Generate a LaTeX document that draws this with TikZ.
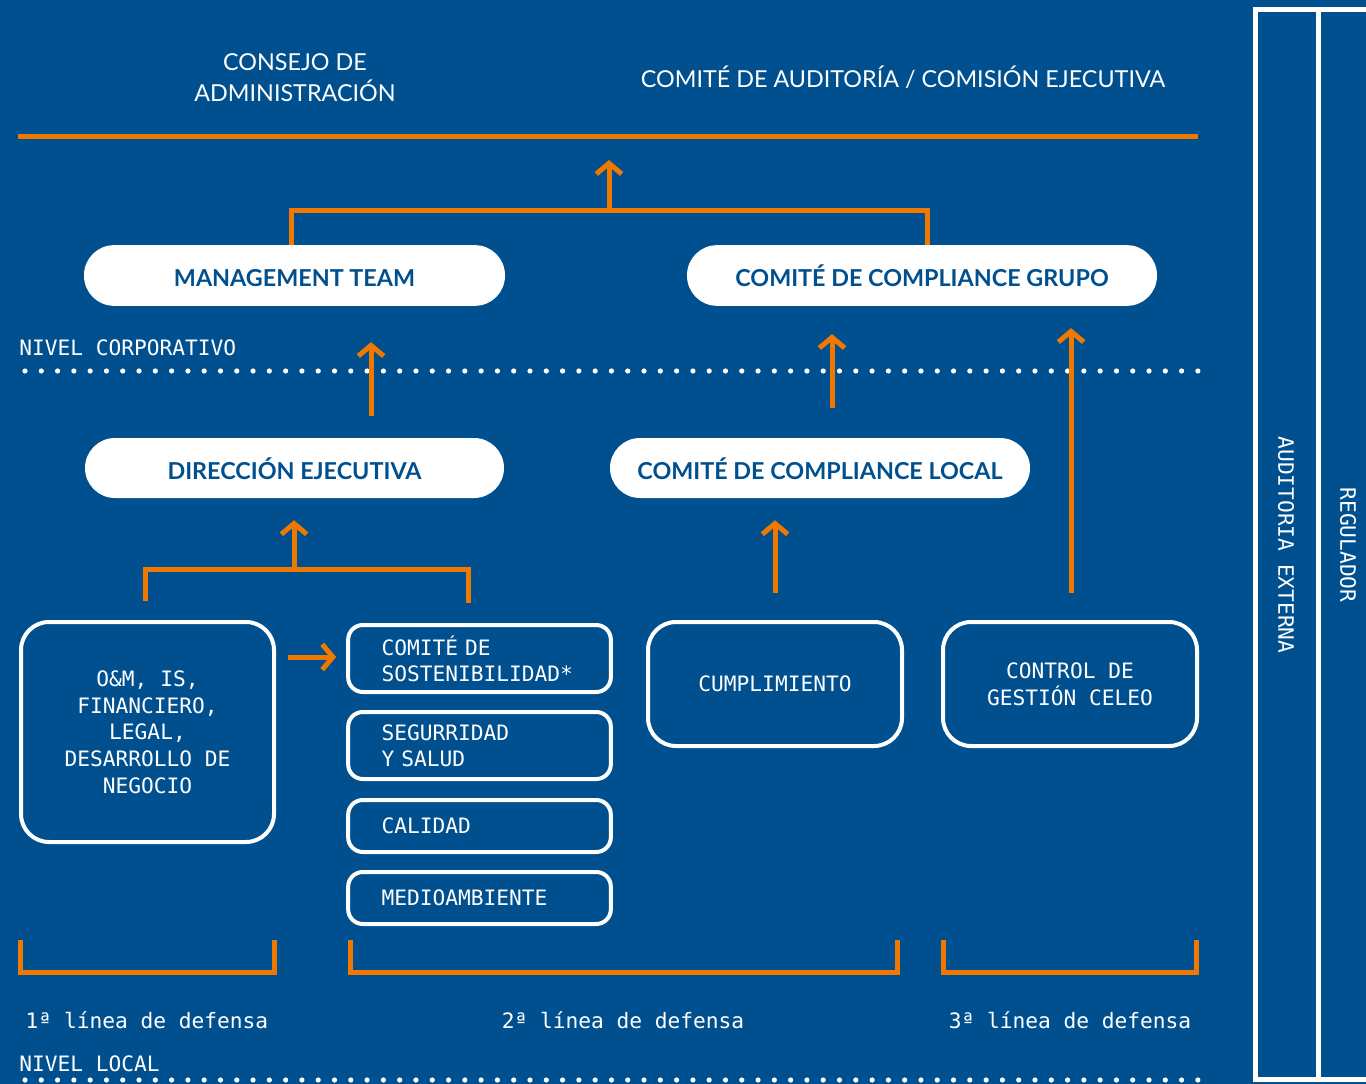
\documentclass[tikz,border=0pt]{standalone}
\usepackage{fontspec}
\setmainfont{Lato}
\newfontfamily\mono{DejaVu Sans Mono}
\usetikzlibrary{arrows.meta,calc}
\definecolor{bg}{HTML}{00508F}
\definecolor{org}{HTML}{F07800}
\begin{document}
\begin{tikzpicture}[x=0.75pt,y=-0.75pt,
  oline/.style={draw=org,line width=3.75pt,line join=miter},
  oarrow/.style={draw=org,line width=3.75pt,-{Straight Barb[length=8pt,width=19pt]}},
  pill/.style={fill=white,rounded corners=22.5pt,minimum height=45.5pt,inner sep=0pt,
    font=\fontsize{17.5}{20}\selectfont\bfseries,text=bg,text height=16.8pt,text depth=0pt},
  title/.style={text=white,font=\fontsize{17.5}{23.5}\selectfont,align=center,inner sep=0pt},
  mtext/.style={text=white,font=\mono\fontsize{15.9}{20}\selectfont,inner sep=0pt},
  bigbox/.style={draw=white,line width=3pt,rounded corners=21pt,text=white,
    font=\mono\fontsize{15.9}{20}\selectfont,align=center,inner sep=0pt},
  smallbox/.style={draw=white,line width=3pt,rounded corners=11pt,text=white,
    font=\mono\fontsize{15.9}{19.5}\selectfont,align=left,inner xsep=23pt,inner ysep=0pt,
    text width=147pt,minimum width=197pt},
  dot/.style={fill=white,draw=none},
  frame/.style={draw=white,line width=3.75pt}
]
\useasboundingbox (0,0) rectangle (1366,1084);
\fill[bg] (0,0) rectangle (1366,1084);

% right frame
\draw[frame] (1380,9.5) -- (1255.5,9.5) -- (1255.5,1079.5) -- (1380,1079.5);
\draw[frame] (1318,9.5) -- (1318,1079.5);
\node[mtext,rotate=-90] (audit) at (1286,545) {AUDITORIA EXTERNA};
\node[mtext,rotate=-90] (regul) at (1348,545) {REGULADOR};

% titles
\node[title] (consejo) at (295,77.5) {CONSEJO DE\\ADMINISTRACIÓN};
\node[title] (comite) at (903,77.5) {COMITÉ DE AUDITORÍA / COMISIÓN EJECUTIVA};
\coordinate (tl1) at (18,137);
\coordinate (tl2) at (1198,137);
\draw[oline] (tl1) -- (tl2);

% corporate pills
\node[pill,minimum width=315.75pt] (mt) at (294.5,275.5) {MANAGEMENT TEAM};
\node[pill,minimum width=352.5pt] (ccg) at (922,275.5) {COMITÉ DE COMPLIANCE GRUPO};

\draw[oline] ($(mt.north)+(-3.5,0)$) -- ++(0,-34) -| ($(ccg.north)+(5,0)$);
\draw[oarrow] ($(mt.north)+(314.5,-34)$) -- ($(tl1)+(591,23)$);

\node[mtext,anchor=west] (nc) at (19,348) {NIVEL CORPORATIVO};
\foreach \i in {0,...,72} \fill[dot] (25+\i*16.29,371) circle (2.6);

% local pills
\node[pill,minimum width=314.25pt,minimum height=45pt] (de) at (294.5,468) {DIRECCIÓN EJECUTIVA};
\node[pill,minimum width=315pt,minimum height=45pt] (ccl) at (820,468) {COMITÉ DE COMPLIANCE LOCAL};

\draw[oarrow] ($(de.north)+(76.5,-22)$) -- ($(mt.south)+(76.5,36)$);
\draw[oarrow] ($(ccl.north)+(12,-30)$) -- ($(ccg.south)+(-90,28)$);

% boxes
\node[bigbox,minimum width=189.75pt,minimum height=165pt] (om) at (147.5,732)
  {O\&M, IS,\\FINANCIERO,\\LEGAL,\\DESARROLLO DE\\NEGOCIO};
\node[smallbox,minimum height=50.25pt] (s1) at (479.5,658.5) {COMITÉ DE\\SOSTENIBILIDAD*};
\node[smallbox,minimum height=50.25pt] (s2) at (479.5,745.5) {SEGURRIDAD\\Y SALUD};
\node[smallbox,minimum height=39pt] (s3) at (479.5,826) {CALIDAD};
\node[smallbox,minimum height=39pt] (s4) at (479.5,898) {MEDIOAMBIENTE};
\node[bigbox,minimum width=190.5pt,minimum height=93pt] (cump) at (775,684) {CUMPLIMIENTO};
\node[bigbox,minimum width=190.5pt,minimum height=93pt] (ctrl) at (1070,684) {CONTROL DE\\GESTIÓN CELEO};

% connectors
\draw[oline] ($(om.north)+(-2.5,-19)$) -- ++(0,-32) -| ($(s1.north)+(-11.5,-20)$);
\draw[oarrow] ($(om.north)+(146.5,-51)$) -- ($(de.south)+(-0.5,22)$);
\draw[oarrow] ($(cump.north)+(0,-27)$) -- ($(ccl.south)+(-45,22)$);
\draw[oarrow] ($(ctrl.north)+(1,-27)$) -- ($(ccg.south)+(149,22)$);
\draw[oarrow] ($(om.east)+(12,-75)$) -- ($(s1.west)+(-10,-1.5)$);

% bottom brackets
\draw[oline] (20,940) -- (20,972) -- (274.5,972) -- (274.5,940);
\draw[oline] (350,940) -- (350,972) -- (897,972) -- (897,940);
\draw[oline] (943,940) -- (943,972) -- (1196,972) -- (1196,940);

\node[mtext] (l1) at (147,1020) {1ª línea de defensa};
\node[mtext] (l2) at (623,1020) {2ª línea de defensa};
\node[mtext] (l3) at (1070,1020) {3ª línea de defensa};

\node[mtext,anchor=west] (nl) at (19,1064) {NIVEL LOCAL};
\foreach \i in {0,...,72} \fill[dot] (25+\i*16.29,1080) circle (2.6);
\end{tikzpicture}
\end{document}
